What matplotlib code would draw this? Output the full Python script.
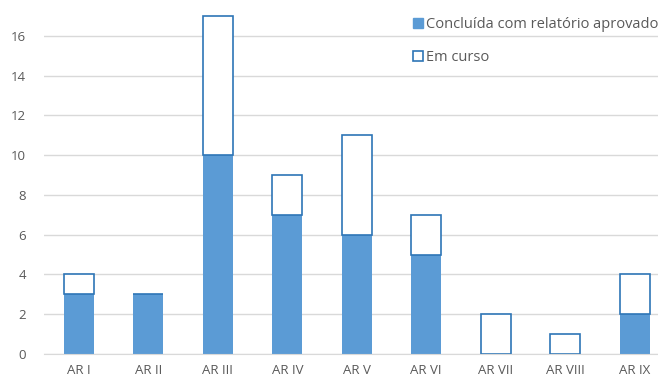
import numpy as np
import matplotlib.pyplot as plt
from matplotlib.patches import Patch

categories = ["AR I", "AR II", "AR III", "AR IV", "AR V", "AR VI", "AR VII", "AR VIII", "AR IX"]
concluida = [3, 3, 10, 7, 6, 5, 0, 0, 2]
em_curso = [1, 0, 7, 2, 5, 2, 2, 1, 2]
yticks = [0, 2, 4, 6, 8, 10, 12, 14, 16]

blue = "#5B9BD5"
edge = "#2E75B6"
grey = "#595959"

plt.rcParams["font.family"] = ["Open Sans", "DejaVu Sans"]

fig = plt.figure(figsize=(6.58, 3.80), dpi=100)
ax = fig.add_axes([44 / 658, 26 / 380, 625.5 / 658, 354 / 380])

x = np.arange(len(categories))
ax.bar(x, concluida, width=0.43, color=blue, zorder=2)
ax.bar(x, em_curso, width=0.43, bottom=concluida, color="white",
       edgecolor=edge, linewidth=1.2, zorder=2)

ax.set_xlim(-0.5, len(categories) - 0.5)
ax.set_ylim(0, 17.81)
ax.set_yticks(yticks)
ax.set_xticks(x)
ax.set_xticklabels(categories)
ax.grid(axis="y", color="#D9D9D9", linewidth=1, zorder=0)
for s in ["top", "right", "left"]:
    ax.spines[s].set_visible(False)
ax.spines["bottom"].set_color("#D9D9D9")
ax.tick_params(length=0, colors=grey, labelsize=9.5, pad=7)
ax.tick_params(axis="y", pad=13)

handles = [Patch(facecolor=blue, edgecolor=blue),
           Patch(facecolor="white", edgecolor=edge, linewidth=1.2)]
fig.legend(handles, ["Concluída com relatório aprovado", "Em curso"],
           loc="upper left", bbox_to_anchor=(0.607, 0.99), frameon=False,
           handlelength=0.7, handleheight=0.7, handletextpad=0.2,
           labelspacing=1.25, fontsize=10.5, labelcolor=grey)

fig.savefig("out.png", dpi=100)
